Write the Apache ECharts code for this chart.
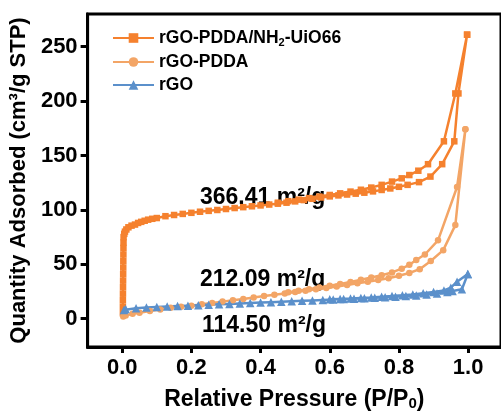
<!DOCTYPE html>
<html>
<head>
<meta charset="utf-8">
<script src="https://cdn.jsdelivr.net/npm/echarts@6/dist/echarts.min.js"></script>
<style>html,body{margin:0;padding:0;background:#fff}#c{width:501px;height:416px}</style>
</head>
<body>
<div id="c"></div>
<script>
// ---- data ----
const seriesNames = ['rGO-PDDA/NH2-UiO66', 'rGO-PDDA', 'rGO'];
const xTicks = [0, 0.2, 0.4, 0.6, 0.8, 1.0];
const yTicks = [0, 50, 100, 150, 200, 250];
const areaLabels = ['366.41 m²/g', '212.09 m²/g', '114.50 m²/g'];

const uioAdsP = [0.002,0.002,0.002,0.0022,0.0024,0.0026,0.0028,0.003,0.0032,0.0034,0.0036,0.0038,0.004,0.006,0.008,0.012,0.018,0.027,0.037,0.046,0.055,0.065,0.075,0.087,0.10,0.125,0.15,0.175,0.20,0.225,0.25,0.275,0.30,0.325,0.35,0.375,0.40,0.425,0.45,0.475,0.50,0.525,0.55,0.575,0.60,0.625,0.65,0.675,0.70,0.725,0.75,0.775,0.80,0.825,0.858,0.891,0.925,0.96,0.972,0.997];
const uioAdsV = [5,11,17,23,29,35,41,47,53,59,65,70,75,78,80,82,84,85.5,86.5,88,89,90,91,91.8,92.5,94.2,95.3,96.3,97.3,98.3,99.1,99.9,100.8,101.7,102.5,103.3,104.1,104.9,105.7,106.6,107.8,109,110.2,111.4,112.4,113.3,114.1,114.9,115.8,117,118.3,119.7,121.2,123,125.5,130.6,142,163,207,261];
const uioDesP = [0.997,0.963,0.930,0.884,0.856,0.83,0.808,0.78,0.75,0.72,0.69,0.66,0.63,0.60,0.57,0.54,0.51,0.48,0.45];
const uioDesV = [261,207,163,142,136,132,129,126,123,120.5,118.5,116.8,115.2,113.7,112.2,110.8,109.4,108,106.6];

const pddaAdsP = [0.003,0.01,0.03,0.05,0.08,0.11,0.14,0.17,0.20,0.23,0.26,0.29,0.32,0.35,0.38,0.41,0.44,0.47,0.50,0.53,0.56,0.59,0.62,0.65,0.68,0.71,0.74,0.77,0.80,0.83,0.86,0.892,0.928,0.963,0.992];
const pddaAdsV = [2,3,4.5,5.5,7,8.5,10,11,12,13.3,14.5,15.7,17,18.2,19.5,20.8,22,23.2,24.5,25.8,27,28.3,29.6,31,32.5,34,35.5,37.2,39.5,42,45.5,53,63,86,174];
const pddaDesP = [0.992,0.968,0.913,0.875,0.85,0.83,0.808,0.78,0.75,0.72,0.69,0.66,0.63,0.60,0.57,0.54,0.51,0.48];
const pddaDesV = [174,121,72,59,54,49.5,46,42.5,40,37.8,35.8,33.8,32,30.2,28.6,27,25.6,24.3];

const rgoAdsP = [0.005,0.01,0.04,0.07,0.10,0.13,0.16,0.19,0.22,0.25,0.28,0.31,0.34,0.37,0.40,0.43,0.46,0.49,0.52,0.55,0.58,0.61,0.64,0.67,0.70,0.73,0.76,0.79,0.82,0.85,0.88,0.91,0.94,0.955,0.982,0.999];
const rgoAdsV = [8,9,9.6,10.2,10.7,11.2,11.6,12,12.4,12.8,13.2,13.6,14,14.4,14.8,15.2,15.6,16,16.4,16.8,17.2,17.6,18,18.4,18.8,19.2,19.7,20.2,20.8,21.4,22.2,23.2,24.5,25.5,27,41];
const rgoDesP = [0.999,0.968,0.95,0.93,0.90,0.87,0.84,0.81,0.78,0.75,0.72,0.69,0.66,0.63,0.60];
const rgoDesV = [41,34,28.5,26,24.5,23.3,22.3,21.5,20.8,20.2,19.6,19.1,18.6,18.2,17.8];

// ---- build ----
function pairs(ps, vs){ return ps.map((p,i)=>[p, vs[i]]); }
const uioData = pairs(uioAdsP, uioAdsV).concat(pairs(uioDesP, uioDesV));
const pddaData = pairs(pddaAdsP, pddaAdsV).concat(pairs(pddaDesP, pddaDesV));
const rgoData = pairs(rgoAdsP, rgoAdsV).concat(pairs(rgoDesP, rgoDesV));

const colors = ['#F5812E', '#F3A566', '#5B90CB'];
const FF = 'Arial, "Liberation Sans", sans-serif';

const chart = echarts.init(document.getElementById('c'), null, {renderer: 'canvas'});
function mkSeries(name, data, color, symbol, size){
  return {
    name, type: 'line', data, symbol, symbolSize: size, showSymbol: true,
    color, lineStyle: {width: 2.5, color}, itemStyle: {color},
    animation: false, silent: true, z: 3
  };
}
const option = {
  animation: false,
  grid: {left: 85.5, top: 14, width: 417.5, height: 339, show: true, borderColor: '#000', borderWidth: 3, containLabel: false},
  legend: {
    orient: 'vertical', left: 107, top: 24, itemWidth: 41, itemHeight: 12, itemGap: 5,
    data: seriesNames,
    formatter: function(n){ return n === seriesNames[0] ? '{b|rGO-PDDA/NH}{s|2}{b|-UiO66}' : '{b|' + n + '}'; },
    textStyle: {color: '#000', fontWeight: 'bold', fontSize: 17.5, fontFamily: FF,
      rich: {b: {fontWeight: 'bold', fontSize: 17.5, fontFamily: FF, color: '#000', lineHeight: 20, verticalAlign: 'middle'},
             s: {fontWeight: 'bold', fontSize: 11, fontFamily: FF, color: '#000', lineHeight: 20, verticalAlign: 'bottom'}}}
  },
  xAxis: {
    type: 'value', min: -0.1, max: 1.095,
    name: 'Relative Pressure (P/P{s|0})', nameLocation: 'middle', nameGap: 41,
    nameTextStyle: {color: '#000', fontWeight: 'bold', fontSize: 23, fontFamily: FF,
      rich: {s: {fontWeight: 'bold', fontSize: 15, fontFamily: FF, color: '#000', verticalAlign: 'bottom', padding: [8,0,0,0]}}},
    axisLine: {onZero: false, lineStyle: {color: '#000', width: 3}},
    axisTick: {show: true, length: 6, lineStyle: {color: '#000', width: 3}, customValues: xTicks},
    axisLabel: {customValues: xTicks, color: '#000', fontWeight: 'bold', fontSize: 22, fontFamily: FF, margin: 10,
      formatter: v => v.toFixed(1)},
    splitLine: {show: false}
  },
  yAxis: {
    type: 'value', min: -26, max: 280,
    name: 'Quantity Adsorbed (cm³/g STP)', nameLocation: 'middle', nameGap: 53, nameRotate: 90,
    nameTextStyle: {color: '#000', fontWeight: 'bold', fontSize: 22, fontFamily: FF},
    axisLine: {onZero: false, lineStyle: {color: '#000', width: 3}},
    axisTick: {show: true, length: 7, lineStyle: {color: '#000', width: 3}, customValues: yTicks},
    axisLabel: {customValues: yTicks, color: '#000', fontWeight: 'bold', fontSize: 22, fontFamily: FF, margin: 10},
    splitLine: {show: false}
  },
  graphic: [
    {type: 'text', left: 200, top: 186, style: {text: areaLabels[0], fill: '#000', font: 'bold 23px ' + FF}},
    {type: 'text', left: 200, top: 268, style: {text: areaLabels[1], fill: '#000', font: 'bold 23px ' + FF}},
    {type: 'text', left: 202, top: 314, style: {text: areaLabels[2], fill: '#000', font: 'bold 23px ' + FF}}
  ],
  series: [
    mkSeries(seriesNames[0], uioData, colors[0], 'rect', 6.5),
    mkSeries(seriesNames[1], pddaData, colors[1], 'circle', 6.5),
    mkSeries(seriesNames[2], rgoData, colors[2], 'triangle', 8.5)
  ]
};
chart.setOption(option);
</script>
</body>
</html>
